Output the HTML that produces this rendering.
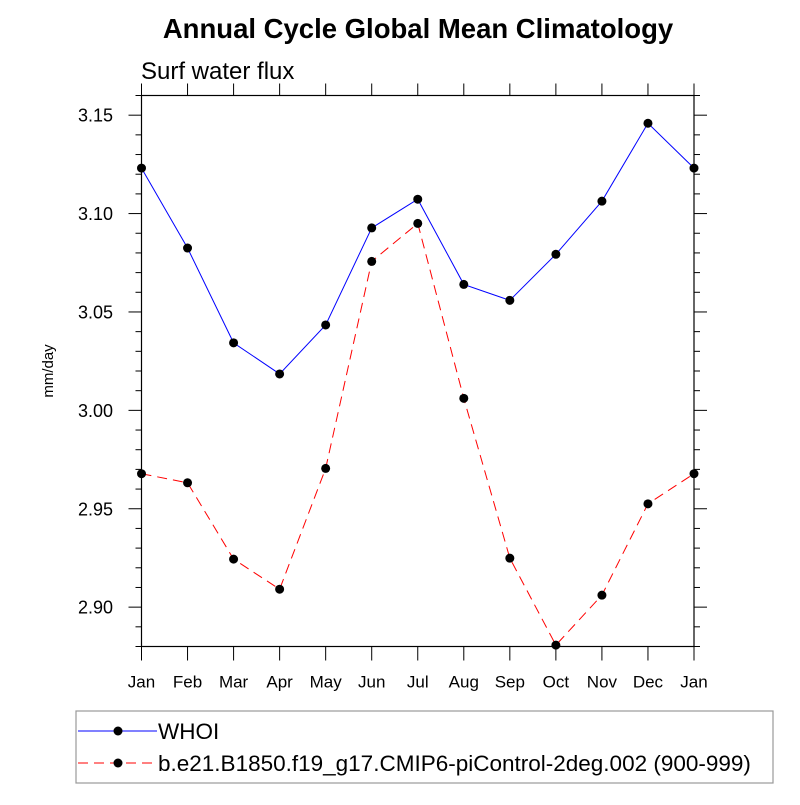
<!DOCTYPE html>
<html><head><meta charset="utf-8"><style>
body{margin:0;background:#fff}
svg text{font-family:"Liberation Sans",Helvetica,sans-serif}
</style></head><body>
<svg id="chart" width="800" height="800" xmlns="http://www.w3.org/2000/svg">
<text x="418" y="38" font-size="27.5" font-weight="bold" text-anchor="middle">Annual Cycle Global Mean Climatology</text>
<text x="141" y="79" font-size="24">Surf water flux</text>
<text transform="translate(53,371) rotate(-90)" font-size="15" text-anchor="middle">mm/day</text>
<g id="axes"></g>
<g id="series"></g>
<g>
<rect x="76" y="711" width="697" height="72" fill="none" stroke="#999" stroke-width="1.2"/>
<line x1="78" y1="731" x2="157" y2="731" stroke="blue" stroke-width="1"/>
<circle cx="118" cy="731" r="4.5" fill="#000"/>
<text x="158" y="739" font-size="22.5">WHOI</text>
<line x1="78" y1="763" x2="157" y2="763" stroke="red" stroke-width="1" stroke-dasharray="10,6"/>
<circle cx="118" cy="763" r="4.5" fill="#000"/>
<text x="158" y="771" font-size="22.5">b.e21.B1850.f19_g17.CMIP6-piControl-2deg.002 (900-999)</text>
</g>
</svg>
<script>
const months=["Jan","Feb","Mar","Apr","May","Jun","Jul","Aug","Sep","Oct","Nov","Dec","Jan"];
const whoi=[3.1231,3.0825,3.0343,3.0185,3.0434,3.0927,3.1073,3.0640,3.0559,3.0793,3.1063,3.1459,3.1231];
const model=[2.9678,2.9632,2.9244,2.9091,2.9705,3.0757,3.0950,3.0061,2.9249,2.8807,2.9061,2.9525,2.9678];
const yTicks=[2.90,2.95,3.00,3.05,3.10,3.15];
const yTickLabels=["2.90","2.95","3.00","3.05","3.10","3.15"];
const L=141.5,R=694,T=95.5,B=646.5,ymin=2.88,ymax=3.16;
const NS="http://www.w3.org/2000/svg";
const X=i=>L+(R-L)*i/(months.length-1);
const Y=v=>B-(v-ymin)/(ymax-ymin)*(B-T);
const ax=document.getElementById('axes'),se=document.getElementById('series');
function mk(p,tag,a){const e=document.createElementNS(NS,tag);for(const k in a)e.setAttribute(k,a[k]);p.appendChild(e);return e;}
const fr=mk(ax,'rect',{x:L,y:T,width:R-L,height:B-T,fill:'none',stroke:'#000','stroke-width':1.2});


for(let k=0;k<=28;k++){const v=ymin+k*0.01,y=Y(v),maj=(k%5==2),len=maj?13:6;
mk(ax,'line',{x1:L-len,y1:y,x2:L,y2:y,stroke:'#000','stroke-width':1});
mk(ax,'line',{x1:R,y1:y,x2:R+len,y2:y,stroke:'#000','stroke-width':1});}
yTicks.forEach((v,i)=>{const t=mk(ax,'text',{x:113,y:Y(v)+6.5,'font-size':18,'text-anchor':'end'});t.textContent=yTickLabels[i];

});
months.forEach((m,i)=>{const x=X(i);
mk(ax,'line',{x1:x,y1:B,x2:x,y2:B+14,stroke:'#000','stroke-width':1});
mk(ax,'line',{x1:x,y1:T,x2:x,y2:T-12,stroke:'#000','stroke-width':1});
const t=mk(ax,'text',{x:x,y:B+41,'font-size':17,'text-anchor':'middle'});t.textContent=m;

});
function draw(d,color,dash,name){
const pl=mk(se,'polyline',{points:d.map((v,i)=>X(i)+','+Y(v)).join(' '),fill:'none',stroke:color,'stroke-width':1,'stroke-dasharray':dash});


d.forEach((v,i)=>{const c=mk(se,'circle',{cx:X(i),cy:Y(v),r:4.5,fill:'#000'});

});}
draw(whoi,'blue','none','whoi');
draw(model,'red','10,6','model');
</script>
</body></html>
